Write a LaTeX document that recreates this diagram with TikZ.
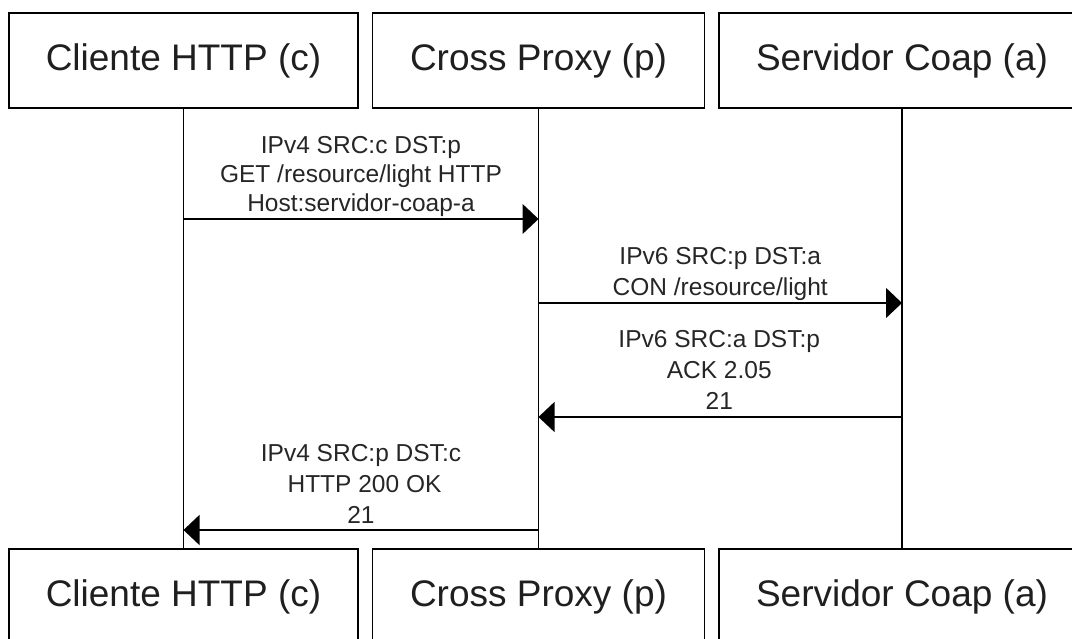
\documentclass[tikz,border=0pt]{standalone}
\usepackage{fontspec}
\setmainfont{Liberation Sans}
\usetikzlibrary{arrows.meta}
\begin{document}
\begin{tikzpicture}[x=1pt,y=-1pt,
  actor/.style={draw=black, line width=1.3pt, minimum width=#1, minimum height=95pt,
    inner sep=0pt, font=\fontsize{37}{44}\selectfont, text=black!88},
  lifeline/.style={draw=black, line width=1.3pt},
  msg/.style={draw=black, line width=1.3pt, -{Triangle[length=16pt,width=30pt]}},
  lbl/.style={font=\fontsize{24.5}{31}\selectfont, align=center, anchor=south,
    inner sep=0pt, text depth=0pt, text=black!85}]
\useasboundingbox (0,0) rectangle (1072,639);
\clip (0,0) rectangle (1072,639);

% participants, top row
\node[actor=349pt] (c1) at (183.5,60.5) {Cliente HTTP (c)};
\node[actor=332pt] (p1) at (538.5,60.5) {Cross Proxy (p)};
\node[actor=366pt] (a1) at (902,60.5) {Servidor Coap (a)};

% participants, bottom row
\node[actor=349pt] (c2) at (183.5,596.5) {Cliente HTTP (c)};
\node[actor=332pt] (p2) at (538.5,596.5) {Cross Proxy (p)};
\node[actor=366pt] (a2) at (902,596.5) {Servidor Coap (a)};

% lifelines
\draw[lifeline] (c1.south) -- (c2.north);
\draw[lifeline] (p1.south) -- (p2.north);
\draw[lifeline] (a1.south) -- (a2.north);

% message anchor points on the lifelines
\coordinate (c-m1) at (c1.south |- 0,219);
\coordinate (p-m1) at (p1.south |- 0,219);
\coordinate (p-m2) at (p1.south |- 0,303);
\coordinate (a-m2) at (a1.south |- 0,303);
\coordinate (a-m3) at (a1.south |- 0,417);
\coordinate (p-m3) at (p1.south |- 0,417);
\coordinate (p-m4) at (p1.south |- 0,530);
\coordinate (c-m4) at (c1.south |- 0,530);

% messages
\draw[msg] (c-m1) -- (p-m1)
  node[lbl, midway, yshift=7pt, font=\fontsize{24.5}{29}\selectfont] (l1)
  {IPv4 SRC:c DST:p\\GET /resource/light HTTP\\Host:servidor-coap-a};
\draw[msg] (p-m2) -- (a-m2)
  node[lbl, midway, yshift=7pt] (l2) {IPv6 SRC:p DST:a\\CON /resource/light};
\draw[msg] (a-m3) -- (p-m3)
  node[lbl, midway, yshift=7pt, xshift=-1pt] (l3) {IPv6 SRC:a DST:p\\ACK 2.05\\21};
\draw[msg] (p-m4) -- (c-m4)
  node[lbl, midway, yshift=6pt] (l4) {IPv4 SRC:p DST:c\\\hspace*{7pt}HTTP 200 OK\\21};
\end{tikzpicture}
\end{document}
